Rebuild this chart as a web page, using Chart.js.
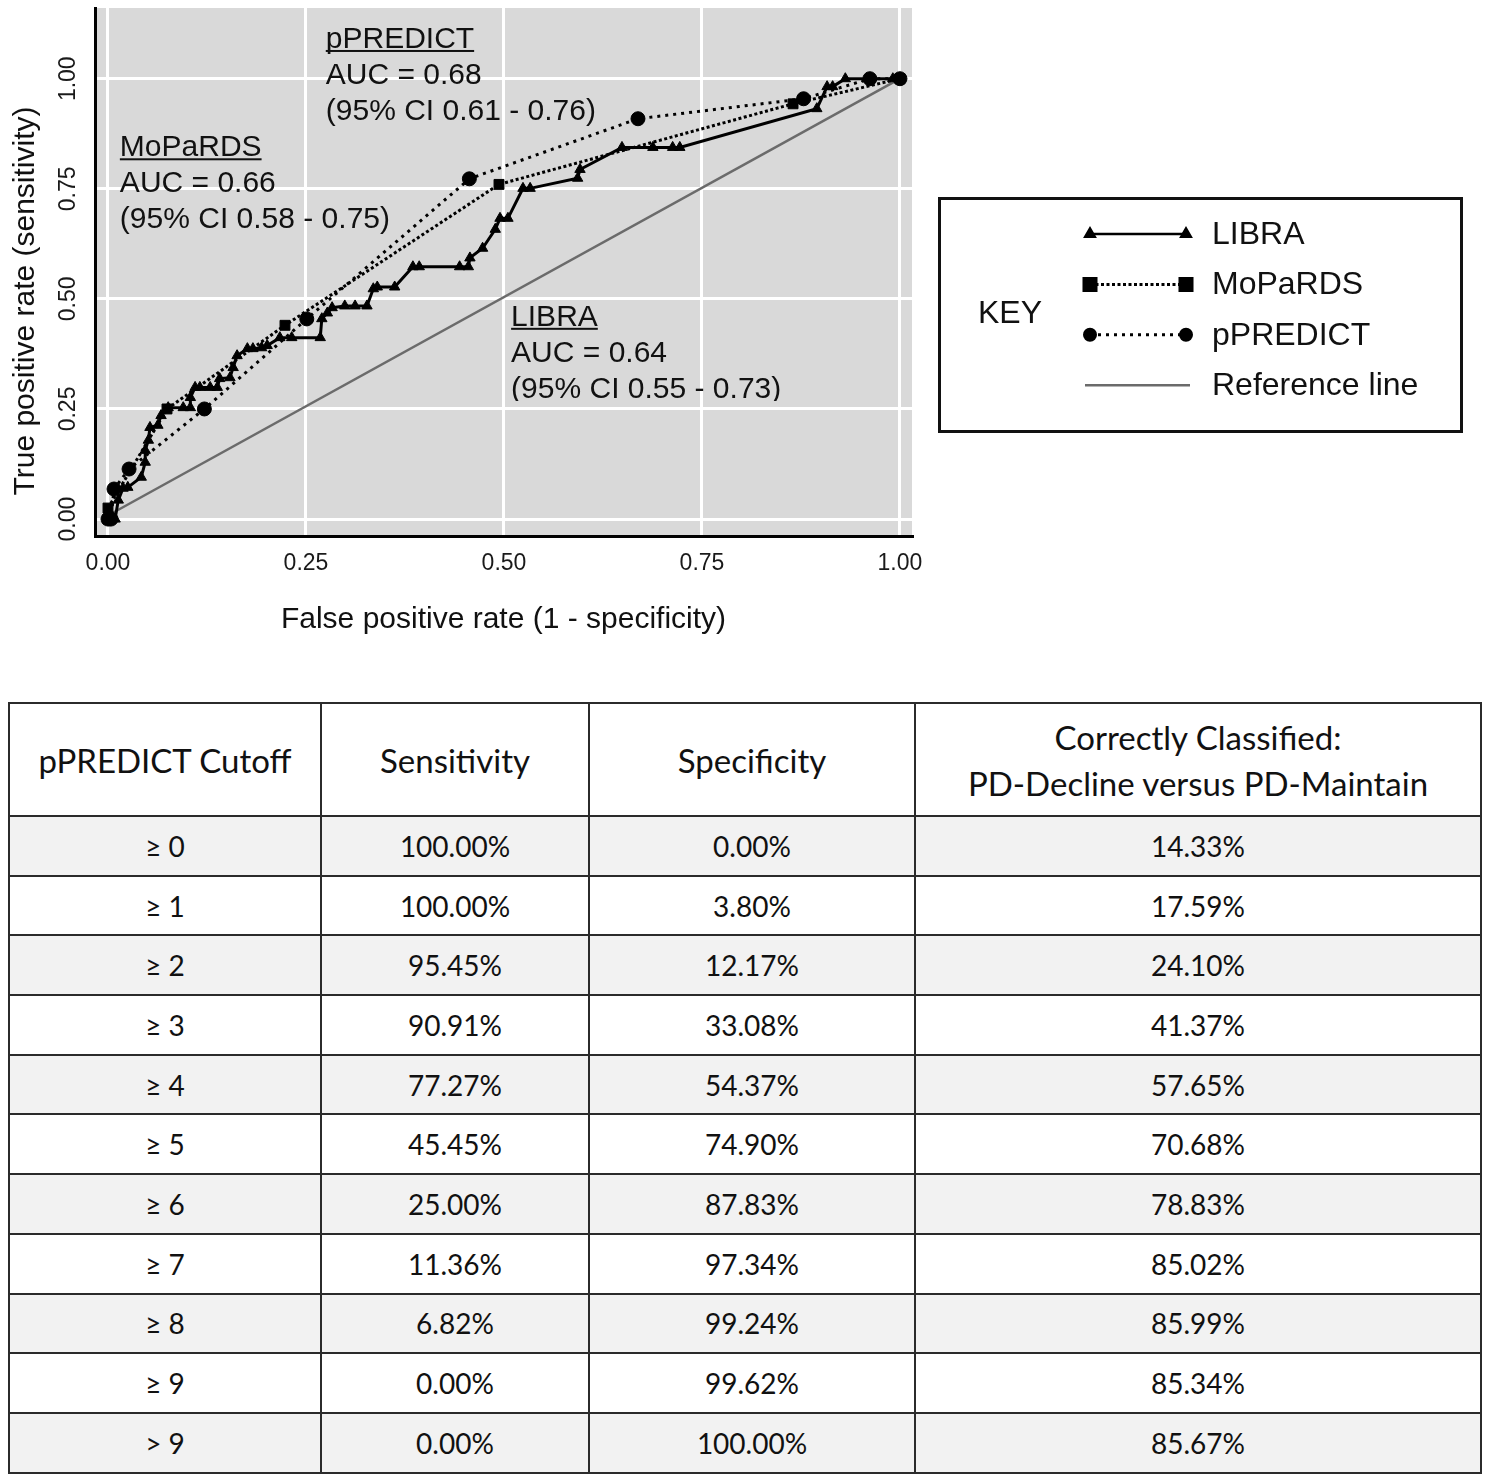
<!DOCTYPE html>
<html>
<head>
<meta charset="utf-8">
<script src="https://cdn.jsdelivr.net/npm/chart.js@4.4.1/dist/chart.umd.min.js"></script>
<style>
  body { margin:0; background:#fff; width:1488px; height:1479px; position:relative; overflow:hidden; }
  #roc { position:absolute; left:0; top:0; }
  #cutoffs { position:absolute; left:8px; top:702px; width:1472px; border-collapse:collapse; table-layout:fixed;
             font-family:Lato, "Open Sans", sans-serif; color:#111; }
  #cutoffs th, #cutoffs td { border:2.5px solid #2b2b2b; text-align:center; padding:0; }
  #cutoffs th { font-weight:normal; font-size:33px; height:111px; line-height:46px; }
  #cutoffs td { font-size:28px; height:57.7px; }
  #cutoffs tr.g td { background:#f2f2f2; }
</style>
</head>
<body>
<canvas id="roc" width="1488" height="660"></canvas>
<table id="cutoffs">
  <colgroup><col style="width:312px"><col style="width:268px"><col style="width:326px"><col style="width:566px"></colgroup>
  <thead><tr><th>pPREDICT Cutoff</th><th>Sensitivity</th><th>Specificity</th><th>Correctly Classified:<br>PD-Decline versus PD-Maintain</th></tr></thead>
  <tbody></tbody>
</table>
<script>
// ROC curves (false positive rate / true positive rate)
var libraFpr = [0, 0.009, 0.013, 0.019, 0.025, 0.042, 0.047, 0.047, 0.051, 0.053, 0.063, 0.067, 0.076, 0.095, 0.104, 0.104,
  0.110, 0.116, 0.129, 0.138, 0.141, 0.154, 0.158, 0.163, 0.176, 0.183, 0.194, 0.201, 0.217, 0.232, 0.268, 0.270,
  0.277, 0.283, 0.299, 0.312, 0.327, 0.335, 0.340, 0.362, 0.385, 0.393, 0.444, 0.455, 0.457, 0.473, 0.489, 0.495,
  0.505, 0.524, 0.533, 0.593, 0.596, 0.649, 0.688, 0.713, 0.722, 0.895, 0.908, 0.915, 0.931, 0.958, 0.991, 1];
var libraTpr = [0, 0, 0.043, 0.070, 0.072, 0.095, 0.129, 0.156, 0.179, 0.208, 0.213, 0.235, 0.253, 0.253, 0.253, 0.276,
  0.299, 0.299, 0.299, 0.299, 0.319, 0.321, 0.344, 0.371, 0.387, 0.387, 0.389, 0.394, 0.412, 0.412, 0.412, 0.455,
  0.468, 0.480, 0.484, 0.484, 0.484, 0.523, 0.527, 0.527, 0.573, 0.573, 0.573, 0.573, 0.593, 0.615, 0.658, 0.683,
  0.683, 0.751, 0.751, 0.774, 0.794, 0.844, 0.844, 0.844, 0.844, 0.932, 0.982, 0.982, 1, 1, 1, 1];

var mopardsFpr = [0, 0, 0.0745, 0.2235, 0.4937, 0.865, 1];
var mopardsTpr = [0, 0.025, 0.25, 0.44, 0.76, 0.943, 1];

var ppredictFpr = [0, 0.0038, 0.0076, 0.0266, 0.1217, 0.2510, 0.4563, 0.6692, 0.8783, 0.9620, 1];
var ppredictTpr = [0, 0, 0.0682, 0.1136, 0.25, 0.4545, 0.7727, 0.9091, 0.9545, 1, 1];

var refFpr = [0.004, 1];
var refTpr = [0.012, 1];

var tickValues = [0, 0.25, 0.5, 0.75, 1];

var annoTitles = ["MoPaRDS", "pPREDICT", "LIBRA"];
var annoAuc = ["AUC = 0.66", "AUC = 0.68", "AUC = 0.64"];
var annoCi = ["(95% CI 0.58 - 0.75)", "(95% CI 0.61 - 0.76)", "(95% CI 0.55 - 0.73)"];

// cutoff table
var cutoffs = ["≥ 0", "≥ 1", "≥ 2", "≥ 3", "≥ 4", "≥ 5", "≥ 6", "≥ 7", "≥ 8", "≥ 9", "> 9"];
var sensitivity = ["100.00%", "100.00%", "95.45%", "90.91%", "77.27%", "45.45%", "25.00%", "11.36%", "6.82%", "0.00%", "0.00%"];
var specificity = ["0.00%", "3.80%", "12.17%", "33.08%", "54.37%", "74.90%", "87.83%", "97.34%", "99.24%", "99.62%", "100.00%"];
var correctlyClassified = ["14.33%", "17.59%", "24.10%", "41.37%", "57.65%", "70.68%", "78.83%", "85.02%", "85.99%", "85.34%", "85.67%"];

var FONT = '"Liberation Sans", Arial, sans-serif';
Chart.defaults.font.family = FONT;

function pts(xs, ys) {
  return xs.map(function (x, i) { return {x: x, y: ys[i]}; });
}

// grey ggplot panel
var panel = {
  id: 'panel',
  beforeDraw: function (chart) {
    var a = chart.chartArea, c = chart.ctx;
    c.save();
    c.fillStyle = '#d9d9d9';
    c.fillRect(a.left, a.top, a.right - a.left, a.bottom - a.top);
    c.restore();
  }
};

// AUC labels inside the panel
var aucLabels = {
  id: 'aucLabels',
  beforeDatasetsDraw: function (chart) {
    var c = chart.ctx, xs = chart.scales.x, ys = chart.scales.y;
    var anchors = [[0.015, 0.842], [0.275, 1.088], [0.509, 0.457]];
    c.save();
    c.font = '30px ' + FONT;
    c.fillStyle = '#111';
    c.textAlign = 'left';
    c.textBaseline = 'alphabetic';
    anchors.forEach(function (p, i) {
      var x = xs.getPixelForValue(p[0]);
      var y = ys.getPixelForValue(p[1]) + 8;
      c.save();
      c.beginPath();
      c.rect(0, 0, chart.width, 401);   // last LIBRA line is cut off in the original
      c.clip();
      [annoTitles[i], annoAuc[i], annoCi[i]].forEach(function (t, k) {
        c.fillText(t, x, y + k * 36);
      });
      c.restore();
      var w = c.measureText(annoTitles[i]).width;
      c.fillRect(x, y + 2, w, 2);
    });
    c.restore();
  }
};

// KEY box and y axis title
var keyRadius = [5, 8.5, 5.5, 0];
var keyBox = {
  id: 'keyBox',
  afterDraw: function (chart) {
    var c = chart.ctx;
    c.save();
    c.fillStyle = '#111';
    c.font = '30px ' + FONT;
    c.textAlign = 'center';
    c.textBaseline = 'middle';
    c.translate(26, 301);
    c.rotate(-Math.PI / 2);
    c.fillText('True positive rate (sensitivity)', 0, 0);
    c.restore();

    c.save();
    c.lineWidth = 3;
    c.strokeStyle = '#111';
    c.strokeRect(939.5, 198.5, 522, 233);
    c.font = '32px ' + FONT;
    c.textAlign = 'left';
    c.textBaseline = 'middle';
    c.fillStyle = '#111';
    c.fillText('KEY', 978, 314);
    chart.data.datasets.forEach(function (ds, i) {
      var y = 234 + i * 50.4;
      c.save();
      c.strokeStyle = ds.borderColor;
      c.lineWidth = i === 0 ? 2.5 : ds.borderWidth;
      c.setLineDash(ds.borderDash || []);
      c.beginPath();
      c.moveTo(ds.pointRadius > 0 ? 1090 : 1085, y);
      c.lineTo(ds.pointRadius > 0 ? 1186 : 1190, y);
      c.stroke();
      c.restore();
      if (ds.pointRadius > 0) {
        c.fillStyle = '#000';
        c.strokeStyle = '#000';
        [1090, 1186].forEach(function (px) {
          Chart.helpers.drawPoint(c, {pointStyle: ds.pointStyle, radius: keyRadius[i], borderWidth: 1, rotation: 0}, px, y);
        });
      }
      c.fillStyle = '#111';
      c.fillText(ds.label, 1212, y + 1);
    });
    c.restore();
  }
};

new Chart(document.getElementById('roc'), {
  type: 'scatter',
  data: {
    datasets: [
      {label: 'LIBRA', data: pts(libraFpr, libraTpr), showLine: true, tension: 0,
       borderColor: '#000', backgroundColor: '#000', borderWidth: 3,
       pointStyle: 'triangle', pointRadius: 6, pointBorderWidth: 1, pointBorderColor: '#000', order: 1},
      {label: 'MoPaRDS', data: pts(mopardsFpr, mopardsTpr), showLine: true, tension: 0,
       borderColor: '#000', backgroundColor: '#000', borderWidth: 3, borderDash: [3, 2.5],
       pointStyle: 'rect', pointRadius: 7, pointBorderWidth: 1, pointBorderColor: '#000', order: 2},
      {label: 'pPREDICT', data: pts(ppredictFpr, ppredictTpr), showLine: true, tension: 0,
       borderColor: '#000', backgroundColor: '#000', borderWidth: 3, borderDash: [3, 5],
       pointStyle: 'circle', pointRadius: 7, pointBorderWidth: 1, pointBorderColor: '#000', order: 3},
      {label: 'Reference line', data: pts(refFpr, refTpr), showLine: true, tension: 0,
       borderColor: '#6b6b6b', borderWidth: 2.5, pointRadius: 0, order: 4}
    ]
  },
  options: {
    responsive: false,
    animation: false,
    layout: {padding: {left: 0, top: 6, right: 576, bottom: 0}},
    plugins: {legend: {display: false}, tooltip: {enabled: false}},
    scales: {
      x: {
        type: 'linear', min: -0.0164, max: 1.0152,
        afterBuildTicks: function (s) { s.ticks = tickValues.map(function (v) { return {value: v}; }); },
        afterFit: function (s) { s.height = 124; s.paddingLeft = 0; s.paddingRight = 0; },
        grid: {color: '#fff', lineWidth: 3, drawTicks: false},
        border: {display: true, color: '#000', width: 3},
        ticks: {padding: 14, color: '#1a1a1a', autoSkip: false, maxRotation: 0, font: {size: 23},
                callback: function (v) { return Number(v).toFixed(2); }},
        title: {display: true, text: 'False positive rate (1 - specificity)', color: '#111',
                font: {size: 30}, padding: {top: 0, bottom: 22}}
      },
      y: {
        type: 'linear', min: -0.0385, max: 1.1606,
        afterBuildTicks: function (s) { s.ticks = tickValues.map(function (v) { return {value: v}; }); },
        afterFit: function (s) { s.width = 95; s.paddingTop = 0; s.paddingBottom = 0; },
        grid: {color: '#fff', lineWidth: 3, drawTicks: false},
        border: {display: true, color: '#000', width: 3},
        ticks: {padding: 4, color: '#1a1a1a', autoSkip: false, minRotation: 90, maxRotation: 90, crossAlign: 'center',
                font: {size: 23}, callback: function (v) { return Number(v).toFixed(2); }}
      }
    }
  },
  plugins: [panel, aucLabels, keyBox]
});

// build the cutoff table rows
var tbody = document.querySelector('#cutoffs tbody');
cutoffs.forEach(function (cut, i) {
  var tr = document.createElement('tr');
  if (i % 2 === 0) tr.className = 'g';
  [cut, sensitivity[i], specificity[i], correctlyClassified[i]].forEach(function (t) {
    var td = document.createElement('td');
    td.textContent = t;
    tr.appendChild(td);
  });
  tbody.appendChild(tr);
});
</script>
</body>
</html>
